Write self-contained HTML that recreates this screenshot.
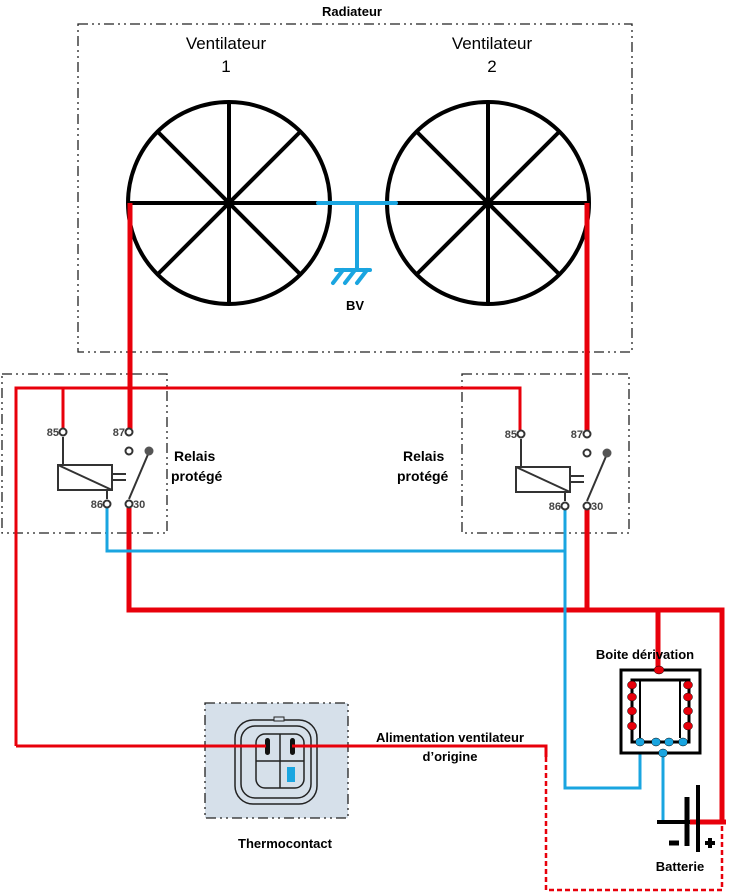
<!DOCTYPE html>
<html><head><meta charset="utf-8"><style>
html,body{margin:0;padding:0;background:#fff;}
svg{display:block;font-family:"Liberation Sans",Arial,sans-serif;}
</style></head><body>
<svg width="730" height="895" viewBox="0 0 730 895" xmlns="http://www.w3.org/2000/svg">
<defs>
<g id="relay">
  <line x1="0" y1="5" x2="0" y2="33" stroke="#333" stroke-width="2"/>
  <rect x="-5" y="33" width="54" height="25" fill="none" stroke="#333" stroke-width="2"/>
  <line x1="-5" y1="33" x2="49" y2="58" stroke="#333" stroke-width="2"/>
  <line x1="44" y1="58" x2="44" y2="67" stroke="#333" stroke-width="2"/>
  <line x1="49" y1="42" x2="63" y2="42" stroke="#333" stroke-width="2"/>
  <line x1="49" y1="48" x2="63" y2="48" stroke="#333" stroke-width="2"/>
  <line x1="66" y1="67" x2="86" y2="20" stroke="#333" stroke-width="2"/>
  <circle cx="86" cy="19" r="4.5" fill="#555"/>
  <circle cx="0" cy="0" r="3.5" fill="#fff" stroke="#333" stroke-width="2"/>
  <circle cx="66" cy="0" r="3.5" fill="#fff" stroke="#333" stroke-width="2"/>
  <circle cx="66" cy="19" r="3.5" fill="#fff" stroke="#333" stroke-width="2"/>
  <circle cx="44" cy="72" r="3.5" fill="#fff" stroke="#333" stroke-width="2"/>
  <circle cx="66" cy="72" r="3.5" fill="#fff" stroke="#333" stroke-width="2"/>
  <text x="-4" y="4" font-size="11" font-weight="bold" fill="#444" text-anchor="end">85</text>
  <text x="62" y="4" font-size="11" font-weight="bold" fill="#444" text-anchor="end">87</text>
  <text x="40" y="76" font-size="11" font-weight="bold" fill="#444" text-anchor="end">86</text>
  <text x="70" y="76" font-size="11" font-weight="bold" fill="#444">30</text>
</g>
</defs>

<rect x="78" y="24" width="554" height="328" fill="none" stroke="#222" stroke-width="1.3" stroke-dasharray="10,4,2,4,2,4"/>
<text x="352" y="16" font-size="13" font-weight="bold" text-anchor="middle">Radiateur</text>
<text x="226" y="49" font-size="17" text-anchor="middle">Ventilateur</text>
<text x="226" y="72" font-size="17" text-anchor="middle">1</text>
<text x="492" y="49" font-size="17" text-anchor="middle">Ventilateur</text>
<text x="492" y="72" font-size="17" text-anchor="middle">2</text>

<g stroke="#000" stroke-width="4" fill="none">
  <circle cx="229" cy="203" r="101"/>
  <line x1="128" y1="203" x2="330" y2="203"/>
  <line x1="229" y1="102" x2="229" y2="304"/>
  <line x1="158" y1="132" x2="300" y2="274"/>
  <line x1="300" y1="132" x2="158" y2="274"/>
  <circle cx="488" cy="203" r="101"/>
  <line x1="387" y1="203" x2="589" y2="203"/>
  <line x1="488" y1="102" x2="488" y2="304"/>
  <line x1="417" y1="132" x2="559" y2="274"/>
  <line x1="559" y1="132" x2="417" y2="274"/>
</g>
<g stroke="#1aa5e0" stroke-width="4" fill="none" stroke-linecap="round">
  <line x1="318" y1="203" x2="396" y2="203"/>
  <line x1="357" y1="203" x2="357" y2="270"/>
  <line x1="336" y1="270" x2="370" y2="270"/>
  <line x1="343" y1="270" x2="333" y2="283"/>
  <line x1="355" y1="270" x2="345" y2="283"/>
  <line x1="367" y1="270" x2="357" y2="283"/>
</g>
<text x="346" y="310" font-size="13" font-weight="bold">BV</text>

<rect x="2" y="374" width="165" height="159" fill="none" stroke="#222" stroke-width="1.3" stroke-dasharray="10,4,2,4,2,4"/>
<rect x="462" y="374" width="167" height="159" fill="none" stroke="#222" stroke-width="1.3" stroke-dasharray="10,4,2,4,2,4"/>

<!-- Thermocontact (drawn before wires) -->
<rect x="205" y="703" width="143" height="115" fill="#d6e0ea" stroke="#222" stroke-width="1.3" stroke-dasharray="10,4,2,4,2,4"/>
<rect x="235" y="720" width="82" height="84" rx="18" fill="none" stroke="#222" stroke-width="1.5"/>
<rect x="241" y="726" width="70" height="72" rx="14" fill="none" stroke="#222" stroke-width="1.5"/>
<rect x="256" y="734" width="48" height="54" rx="9" fill="none" stroke="#222" stroke-width="1.5"/>
<line x1="280" y1="734" x2="280" y2="788" stroke="#222" stroke-width="1.5"/>
<line x1="256" y1="761" x2="304" y2="761" stroke="#222" stroke-width="1.5"/>
<rect x="274" y="717" width="10" height="4" fill="#d6e0ea" stroke="#222" stroke-width="1"/>
<rect x="265" y="738" width="5" height="17" rx="2.5" fill="#111"/>
<rect x="290" y="738" width="5" height="17" rx="2.5" fill="#111"/>
<rect x="287" y="767" width="8" height="15" fill="#1aa5e0"/>

<g stroke="#e8000b" stroke-width="3" fill="none">
  <polyline points="16,746 16,388 520,388 520,430"/>
  <line x1="63" y1="388" x2="63" y2="429"/>
  <line x1="16" y1="746" x2="266" y2="746"/>
  <polyline points="292,746 546,746 546,757"/>
</g>
<g stroke="#e8000b" stroke-width="5" fill="none">
  <line x1="130" y1="203" x2="130" y2="429"/>
  <line x1="587" y1="203" x2="587" y2="431"/>
  <polyline points="129,508 129,610 722,610 722,822"/>
  <line x1="587" y1="509" x2="587" y2="610"/>
  <line x1="658" y1="610" x2="658" y2="672"/>
  <line x1="690" y1="822" x2="726" y2="822"/>
</g>
<polyline points="546,757 546,890 722,890 722,824" stroke="#e8000b" stroke-width="2.5" fill="none" stroke-dasharray="5,3"/>

<g stroke="#1aa5e0" stroke-width="3" fill="none">
  <polyline points="107,508 107,551 565,551"/>
  <polyline points="565,509 565,788 640,788 640,742"/>
  <line x1="663" y1="754" x2="663" y2="822"/>
</g>

<use href="#relay" x="63" y="432"/>
<use href="#relay" x="521" y="434"/>
<text x="174" y="461" font-size="14" font-weight="bold">Relais</text>
<text x="171" y="481" font-size="14" font-weight="bold">protégé</text>
<text x="403" y="461" font-size="14" font-weight="bold">Relais</text>
<text x="397" y="481" font-size="14" font-weight="bold">protégé</text>

<text x="645" y="659" font-size="13" font-weight="bold" text-anchor="middle">Boite dérivation</text>
<rect x="621" y="670" width="79" height="83" fill="#fff" stroke="#000" stroke-width="3"/>
<rect x="632" y="680" width="57" height="62" fill="none" stroke="#000" stroke-width="3"/>
<line x1="640" y1="680" x2="640" y2="738" stroke="#000" stroke-width="2"/>
<line x1="680" y1="680" x2="680" y2="738" stroke="#000" stroke-width="2"/>
<g fill="#e8000b" stroke="#000" stroke-width="0.5">
  <ellipse cx="659" cy="670" rx="5" ry="4"/>
  <ellipse cx="632" cy="685" rx="4.5" ry="4"/><ellipse cx="632" cy="697" rx="4.5" ry="4"/>
  <ellipse cx="632" cy="711" rx="4.5" ry="4"/><ellipse cx="632" cy="726" rx="4.5" ry="4"/>
  <ellipse cx="688" cy="685" rx="4.5" ry="4"/><ellipse cx="688" cy="697" rx="4.5" ry="4"/>
  <ellipse cx="688" cy="711" rx="4.5" ry="4"/><ellipse cx="688" cy="726" rx="4.5" ry="4"/>
</g>
<g fill="#1aa5e0" stroke="#000" stroke-width="0.5">
  <ellipse cx="640" cy="742" rx="4.5" ry="4"/><ellipse cx="656" cy="742" rx="4.5" ry="4"/>
  <ellipse cx="669" cy="742" rx="4.5" ry="4"/><ellipse cx="683" cy="742" rx="4.5" ry="4"/>
  <ellipse cx="663" cy="753" rx="4.5" ry="4"/>
</g>

<line x1="657" y1="822" x2="690" y2="822" stroke="#000" stroke-width="4"/>
<line x1="687" y1="797" x2="687" y2="846" stroke="#000" stroke-width="5"/>
<line x1="698" y1="785" x2="698" y2="852" stroke="#000" stroke-width="4"/>
<line x1="669" y1="843" x2="679" y2="843" stroke="#000" stroke-width="5"/>
<line x1="705" y1="843" x2="715" y2="843" stroke="#000" stroke-width="4"/>
<line x1="710" y1="838" x2="710" y2="848" stroke="#000" stroke-width="4"/>
<text x="680" y="871" font-size="13" font-weight="bold" text-anchor="middle">Batterie</text>

<text x="285" y="848" font-size="13" font-weight="bold" text-anchor="middle">Thermocontact</text>
<text x="450" y="742" font-size="13" font-weight="bold" text-anchor="middle">Alimentation ventilateur</text>
<text x="450" y="761" font-size="13" font-weight="bold" text-anchor="middle">d’origine</text>
</svg>
</body></html>
